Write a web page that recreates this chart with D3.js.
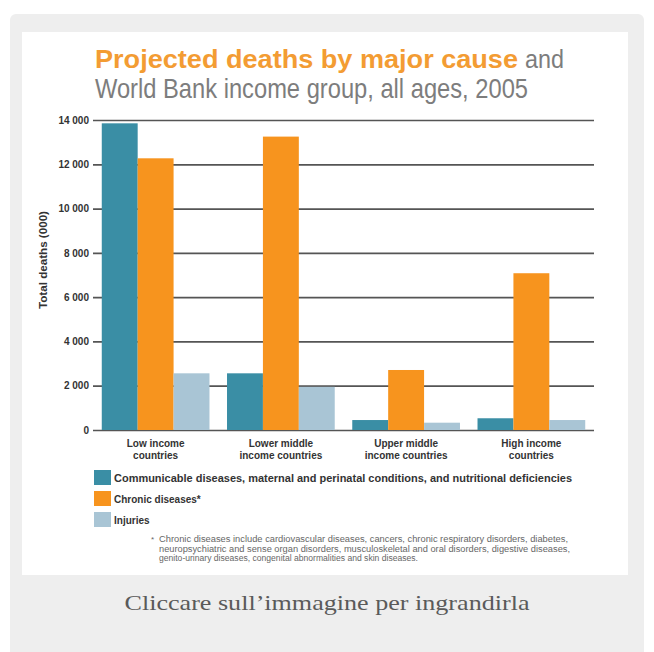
<!DOCTYPE html>
<html>
<head>
<meta charset="utf-8">
<script src="https://cdn.jsdelivr.net/npm/d3@7/dist/d3.min.js"></script>
<style>
  html, body { margin: 0; padding: 0; background: #ffffff; }
  svg { display: block; }
</style>
</head>
<body>
<svg id="chart" width="654" height="652"></svg>
<script>
// ---- data ----
const categories = [["Low income", "countries"], ["Lower middle", "income countries"], ["Upper middle", "income countries"], ["High income", "countries"]];
const seriesNames = ["Communicable diseases, maternal and perinatal conditions, and nutritional deficiencies", "Chronic diseases*", "Injuries"];
const communicable = [13850, 2560, 450, 530];
const chronic = [12270, 13250, 2710, 7080];
const injuries = [2560, 1950, 330, 450];
const yTicks = [0, 2000, 4000, 6000, 8000, 10000, 12000, 14000];
const yTickLabels = ["0", "2 000", "4 000", "6 000", "8 000", "10 000", "12 000", "14 000"];
const titleBold = "Projected deaths by major cause";
const titleAnd = "and";
const titleLine2 = "World Bank income group, all ages, 2005";
const yTitle = "Total deaths (000)";
const footnote = ["Chronic diseases include cardiovascular diseases, cancers, chronic respiratory disorders, diabetes,",
  "neuropsychiatric and sense organ disorders, musculoskeletal and oral disorders, digestive diseases,",
  "genito-urinary diseases, congenital abnormalities and skin diseases."];
const caption = "Cliccare sull\u2019immagine per ingrandirla";

// ---- styles ----
const colors = ["#3a8ea5", "#f7941e", "#a9c5d5"];
const narrow = "'Liberation Sans Narrow', 'Arial Narrow', 'Liberation Sans', Arial, sans-serif";

const svg = d3.select("#chart");

// frame
svg.append("rect").attr("x", 10).attr("y", 14).attr("width", 634).attr("height", 650).attr("rx", 6).attr("fill", "#eeeeee");
svg.append("rect").attr("x", 22).attr("y", 32).attr("width", 606).attr("height", 543).attr("fill", "#ffffff");

// caption
svg.append("text").attr("x", 327).attr("y", 610).attr("text-anchor", "middle")
  .attr("font-family", "'Liberation Serif', 'DejaVu Serif', serif").attr("font-size", 22)
  .attr("fill", "#5a5a5a").attr("textLength", 405).attr("lengthAdjust", "spacingAndGlyphs")
  .text(caption);

// titles
svg.append("text").attr("x", 95).attr("y", 68).attr("font-family", narrow).attr("font-weight", "bold")
  .attr("font-size", 26).attr("fill", "#f39c33").attr("textLength", 423).attr("lengthAdjust", "spacingAndGlyphs")
  .text(titleBold);
svg.append("text").attr("x", 525).attr("y", 68).attr("font-family", narrow)
  .attr("font-size", 26).attr("fill", "#7d7d7d").attr("textLength", 39).attr("lengthAdjust", "spacingAndGlyphs")
  .text(titleAnd);
svg.append("text").attr("x", 95).attr("y", 98).attr("font-family", narrow)
  .attr("font-size", 28).attr("fill", "#7d7d7d").attr("textLength", 433).attr("lengthAdjust", "spacingAndGlyphs")
  .text(titleLine2);

// scales
const plotLeft = 93, plotRight = 594, plotTop = 120, plotBottom = 430;
const y = d3.scaleLinear().domain([0, 14000]).range([plotBottom, plotTop]);
const x0 = d3.scaleBand().domain(d3.range(categories.length)).range([plotLeft, plotRight]).paddingInner(0.14).paddingOuter(0.07);
const x1 = d3.scaleBand().domain(d3.range(3)).range([0, x0.bandwidth()]).padding(0);

// y axis with gridlines
const yAxis = d3.axisLeft(y).tickValues(yTicks).tickFormat((d, i) => yTickLabels[i])
  .tickSize(-(plotRight - plotLeft)).tickPadding(3);
const ga = svg.append("g").attr("transform", `translate(${plotLeft},0)`).call(yAxis);
ga.select(".domain").remove();
ga.selectAll(".tick line").attr("stroke", "#555555").attr("stroke-width", 1.7);
ga.selectAll(".tick text").attr("font-family", narrow).attr("font-weight", "bold")
  .attr("font-size", 10).attr("fill", "#333").attr("x", -4);

// y title
svg.append("text").attr("transform", "translate(47,260) rotate(-90)").attr("text-anchor", "middle")
  .attr("font-family", narrow).attr("font-weight", "bold").attr("font-size", 10).attr("fill", "#333")
  .attr("textLength", 98).attr("lengthAdjust", "spacingAndGlyphs")
  .text(yTitle);

// bars
const seriesData = [communicable, chronic, injuries];
const groups = svg.append("g").selectAll("g").data(categories).join("g")
  .attr("transform", (d, i) => `translate(${x0(i)},0)`);
groups.selectAll("rect").data((d, i) => seriesData.map((s, k) => ({ k, v: s[i] }))).join("rect")
  .attr("x", d => x1(d.k)).attr("width", x1.bandwidth())
  .attr("y", d => y(d.v)).attr("height", d => y(0) - y(d.v))
  .attr("fill", d => colors[d.k]);

// x labels
const xl = svg.append("g").selectAll("text").data(categories).join("text")
  .attr("x", (d, i) => x0(i) + x0.bandwidth() / 2).attr("y", 447).attr("text-anchor", "middle")
  .attr("font-family", narrow).attr("font-weight", "bold").attr("font-size", 10).attr("fill", "#333");
xl.append("tspan").attr("x", (d, i) => x0(i) + x0.bandwidth() / 2).text(d => d[0]);
xl.append("tspan").attr("x", (d, i) => x0(i) + x0.bandwidth() / 2).attr("dy", 12).text(d => d[1]);

// legend
const lg = svg.append("g").selectAll("g").data(seriesNames).join("g")
  .attr("transform", (d, i) => `translate(94,${470 + i * 21})`);
lg.append("rect").attr("width", 17).attr("height", 15).attr("fill", (d, i) => colors[i]);
lg.append("text").attr("x", 20).attr("y", 12).attr("font-family", narrow).attr("font-weight", "bold")
  .attr("font-size", 10).attr("fill", "#333")
  .each(function (d, i) { if (i === 0) d3.select(this).attr("textLength", 458).attr("lengthAdjust", "spacingAndGlyphs"); })
  .text(d => d);

// footnote
svg.append("text").attr("x", 151).attr("y", 542).attr("font-family", narrow).attr("font-size", 8).attr("fill", "#666").text("*");
const fnLen = [409, 411, 259];
svg.append("g").selectAll("text").data(footnote).join("text")
  .attr("x", 159).attr("y", (d, i) => 542 + i * 9.5)
  .attr("font-family", narrow).attr("font-size", 8.5).attr("fill", "#666")
  .attr("textLength", (d, i) => fnLen[i]).attr("lengthAdjust", "spacingAndGlyphs")
  .text(d => d);
</script>
</body>
</html>
